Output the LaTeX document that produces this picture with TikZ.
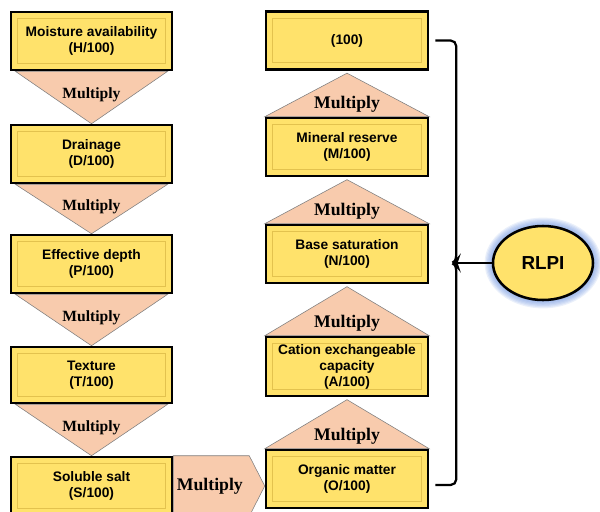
\documentclass[tikz,border=0pt]{standalone}
\usepackage{fontspec}
\setmainfont{Liberation Serif}
\setsansfont{Liberation Sans}
\usepackage{xcolor}
\definecolor{rlpiyellow}{HTML}{FFE26B}
\definecolor{rlpiedge}{HTML}{E3C24E}
\definecolor{rlpipeach}{HTML}{F8CBAD}
\definecolor{rlpigray}{HTML}{7F7F7F}
\definecolor{rlpiglow}{HTML}{6F95E0}
\usetikzlibrary{calc,backgrounds,shapes.geometric}

\begin{document}
\begin{tikzpicture}[
  factor/.style={rectangle, draw=black, line width=1.8pt, fill=rlpiyellow, minimum width=4.025cm, minimum height=1.45cm, align=center, inner sep=2pt,
    font=\sffamily\bfseries\fontsize{9.8}{11.4}\selectfont,
    path picture={\draw[rlpiedge, line width=0.7pt] ([shift={(0.17,-0.17)}]path picture bounding box.north west) rectangle ([shift={(-0.17,0.17)}]path picture bounding box.south east);}},
  result/.style={ellipse, draw=black, line width=1.8pt, fill=rlpiyellow, minimum width=2.5cm, minimum height=1.85cm, inner sep=0pt, font=\sffamily\bfseries\fontsize{13.4}{16}\selectfont},
  mult/.style={fill=rlpipeach, draw=rlpigray, line width=0.4pt},
  multlab/.style={inner sep=0pt, font=\rmfamily\bfseries\fontsize{11.1}{13}\selectfont},
  multlabR/.style={multlab, font=\rmfamily\bfseries\fontsize{12.6}{15}\selectfont},
  brace/.style={draw=black, line width=1.6pt},
]
\clip (0,0) rectangle (15,-12.775);
% ---------------- left column (top to bottom)
\node[factor] (h) at (2.2875,-1.025) {Moisture availability\\(H/100)};
\node[factor] (d) at (2.2875,-3.85) {Drainage\\(D/100)};
\node[factor] (p) at (2.2875,-6.6) {Effective depth\\(P/100)};
\node[factor, minimum height=1.4cm] (t) at (2.2875,-9.375) {Texture\\(T/100)};
\node[factor] (s) at (2.2875,-12.15) {Soluble salt\\(S/100)};
% ---------------- right column (bottom to top)
\node[factor, minimum width=4.05cm] (c) at (8.675,-1.0125) {(100)};
\node[factor, minimum width=4.05cm] (m) at (8.675,-3.675) {Mineral reserve\\(M/100)};
\node[factor, minimum width=4.05cm] (n) at (8.675,-6.35) {Base saturation\\(N/100)};
\node[factor, minimum width=4.05cm, minimum height=1.475cm] (a) at (8.675,-9.1625) {Cation exchangeable\\capacity\\(A/100)};
\node[factor, minimum width=4.05cm] (o) at (8.675,-11.975) {Organic matter\\(O/100)};
% ---------------- result
\node[result] (rlpi) at (13.575,-6.575) {RLPI};
% ---------------- multiply arrows (background)
\begin{scope}[on background layer]
  \foreach \up/\dn [count=\i] in {h/d,d/p,p/t,t/s} {
    \draw[mult] ($(\up.south west)+(0.14,0)$) -- ($(\up.south east)+(-0.14,0)$) -- (\dn.north) -- cycle;
    \node[multlab] (xl\i) at ($(\up.south)!0.45!(\dn.north)$) {Multiply};
  }
  \foreach \up/\dn [count=\i] in {c/m,m/n,n/a,a/o} {
    \draw[mult] (\dn.north west) -- (\dn.north east) -- ($(\up.south)+(0,-0.06)$) -- cycle;
    \node[multlabR] (xr\i) at ($(\dn.north)+(0,0.3)$) {Multiply};
  }
  \coordinate (tip) at (o.west |- s.east);
  \draw[mult] (s.north east) -- ++(1.9,0) -- (tip) -- ($(s.south east)+(1.9,0)$) -- (s.south east) -- cycle;
  \node[multlabR] (xs) at ($(s.east)!0.4!(tip)$) {Multiply};
  \foreach \k in {1,...,7} {
    \fill[rlpiglow, opacity=0.14] (rlpi.center) ellipse ({1.25+0.03*\k} and {0.925+0.03*\k});
  }
\end{scope}
% ---------------- bracket to RLPI
\coordinate (bt) at ($(c.east)+(0.15,0)$);
\coordinate (bb) at ($(o.east)+(0.15,-0.15)$);
\coordinate (bx) at ($(bt)+(0.525,0)$);
\draw[brace, rounded corners=4pt] (bt) -- (bx) -- ($(bx |- rlpi.west)+(0,0.06)$) -- ($(bx |- rlpi.west)+(-0.05,0)$) -- ($(bx |- rlpi.west)+(0,-0.06)$) -- (bx |- bb) -- (bb);
\draw[brace] (bx |- rlpi.west) -- (rlpi.west);
\end{tikzpicture}
\end{document}
